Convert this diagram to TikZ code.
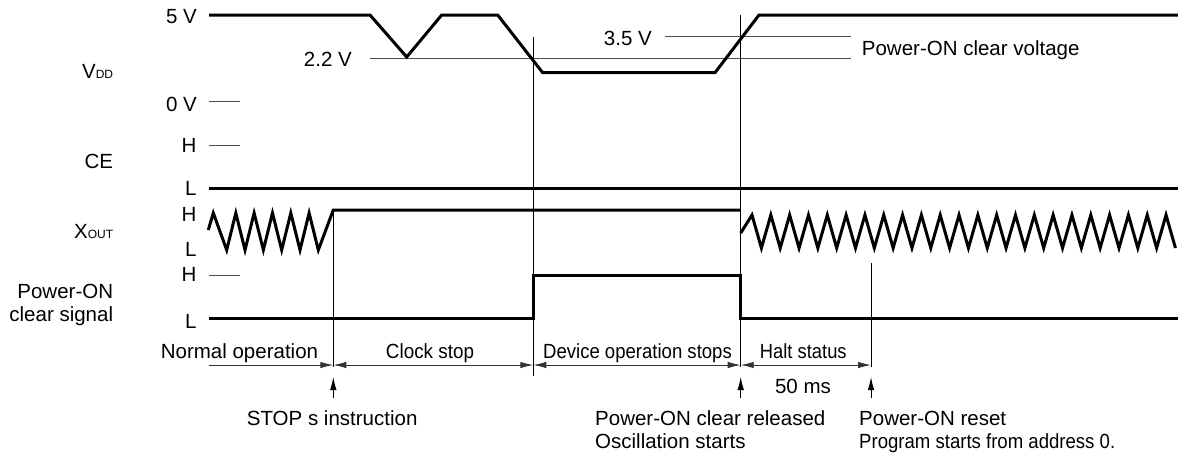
\documentclass[tikz,border=0pt]{standalone}
\usepackage{fontspec}
\setmainfont{Liberation Sans}
\usetikzlibrary{arrows.meta}

\newcommand{\sbs}[1]{{\fontsize{12}{12}\selectfont #1}}
\newcommand{\narrow}[2]{\scalebox{#1}[1]{#2}}

\begin{document}
\begin{tikzpicture}[
  x=1pt, y=-1pt,
  font=\fontsize{20.5}{24}\selectfont,
  txt/.style={inner sep=0pt},
  sig/.style={line width=3pt},
  hair/.style={line width=0.9pt},
  lvl/.style={line width=0.9pt, black!70},
  dim/.style={line width=0.9pt, black!80},
  tip/.style={-{Latex[length=13pt,width=6.5pt]}, line width=0.9pt},
  tips/.style={{Latex[length=13pt,width=6.5pt]}-{Latex[length=13pt,width=6.5pt]}, line width=0.9pt}
]
\useasboundingbox (0,0) rectangle (1178,456);

% signal names
\node[txt, anchor=base east] (vdd) at (113.3,78.3) {V\sbs{DD}};
\node[txt, anchor=base east] (ce) at (113.3,168.3) {CE};
\node[txt, anchor=base east] (xout) at (113.3,238.3) {X\sbs{OUT}};
\node[txt, anchor=base east] (pon) at (113.3,298.3) {Power-ON};
\node[txt, anchor=base east] (clr) at (113.3,321.7) {clear signal};

% level labels
\node[txt, anchor=base east] (v5) at (197,23.3) {5 V};
\node[txt, anchor=base east] (v22) at (352,66.7) {2.2 V};
\node[txt, anchor=base east] (v35) at (652,45) {3.5 V};
\node[txt, anchor=base west] (pocv) at (861.7,55) {Power-ON clear voltage};
\node[txt, anchor=base east] (v0) at (197,111.7) {0 V};
\node[txt, anchor=base east] (ceH) at (196.7,152.7) {H};
\node[txt, anchor=base east] (ceL) at (196.7,195) {L};
\node[txt, anchor=base east] (xH) at (196.7,221.7) {H};
\node[txt, anchor=base east] (xL) at (196.7,256) {L};
\node[txt, anchor=base east] (pH) at (196.7,281.7) {H};
\node[txt, anchor=base east] (pL) at (196.7,328.3) {L};

% level ticks and thresholds
\draw[lvl] (209,101.7) -- (240,101.7);
\draw[lvl] (209,145) -- (240,145);
\draw[lvl] (209,275) -- (240,275);
\draw[lvl] (370,58.3) -- (851,58.3);
\draw[lvl] (665,36.7) -- (851,36.7);

% event coordinates
\coordinate (stop) at (333.3,367);
\coordinate (fall) at (533.3,376);
\coordinate (rel) at (740.7,367);
\coordinate (rst) at (871,367);

% VDD
\draw[sig] (209,15) -- (370,15) -- (406.7,57) -- (441.7,15) -- (497.7,15)
  -- (542.7,72.7) -- (715,72.7) -- (759,15) -- (1178,15);
% CE
\draw[sig] (209,188.3) -- (1178,188.3);
% XOUT
\draw[sig] (208.3,230) -- (213.3,213)
  \foreach \k in {0,...,4} { -- ({226.7+18.33*\k},250) -- ({235.8+18.33*\k},213) }
  -- (318.3,250) -- (333.3,210) -- (740.7,210);
\draw[sig] (740.7,233)
  \foreach \k in {0,...,22} { -- ({752+18.82*\k},215) -- ({761.4+18.82*\k},248) };
% Power-ON clear signal
\draw[sig] (209,318.3) -- (533.3,318.3) -- (533.3,275) -- (740.7,275)
  -- (740.7,318.3) -- (1178,318.3);

% event lines
\draw[hair] (333.3,210) -- (stop);
\draw[hair] (533.3,37.3) -- (fall);
\draw[hair] (740.7,15) -- (rel);
\draw[hair] (871,263.3) -- (rst);

% phase dimensions
\coordinate (d0) at (209,365);
\coordinate (d1) at (333.3,365);
\coordinate (d2) at (533.3,365);
\coordinate (d3) at (740.7,365);
\coordinate (d4) at (871,365);
\draw[dim, tip] (d0) -- (d1);
\draw[dim, tips] (d1) -- (d2);
\draw[dim, tips] (d2) -- (d3);
\draw[dim, tips] (d3) -- (d4);
\node[txt, anchor=base east] (normal) at (318.3,358) {Normal operation};
\node[txt, anchor=base] (clk) at (430,358) {\narrow{0.92}{Clock stop}};
\node[txt, anchor=base] (dev) at (637.5,358) {\narrow{0.905}{Device operation stops}};
\node[txt, anchor=base] (halt) at (803.3,358) {\narrow{0.895}{Halt status}};
\node[txt, anchor=base] (ms) at (803,393.3) {50 ms};

% event arrows
\coordinate (a1) at (333.3,398.3);
\coordinate (a2) at (740.7,398.3);
\coordinate (a3) at (871,398.3);
\draw[tip] (a1) -- ++(0,-21.3);
\draw[tip] (a2) -- ++(0,-21.3);
\draw[tip] (a3) -- ++(0,-21.3);
\node[txt, anchor=base west] (stopi) at (246.7,425) {STOP s instruction};
\node[txt, anchor=base west] (relt) at (595,425) {Power-ON clear released};
\node[txt, anchor=base west] (osc) at (595,448.3) {Oscillation starts};
\node[txt, anchor=base west] (rstt) at (859,425) {Power-ON reset};
\node[txt, anchor=base west] (prog) at (859,448.3) {\narrow{0.906}{Program starts from address 0.}};
\end{tikzpicture}
\end{document}
